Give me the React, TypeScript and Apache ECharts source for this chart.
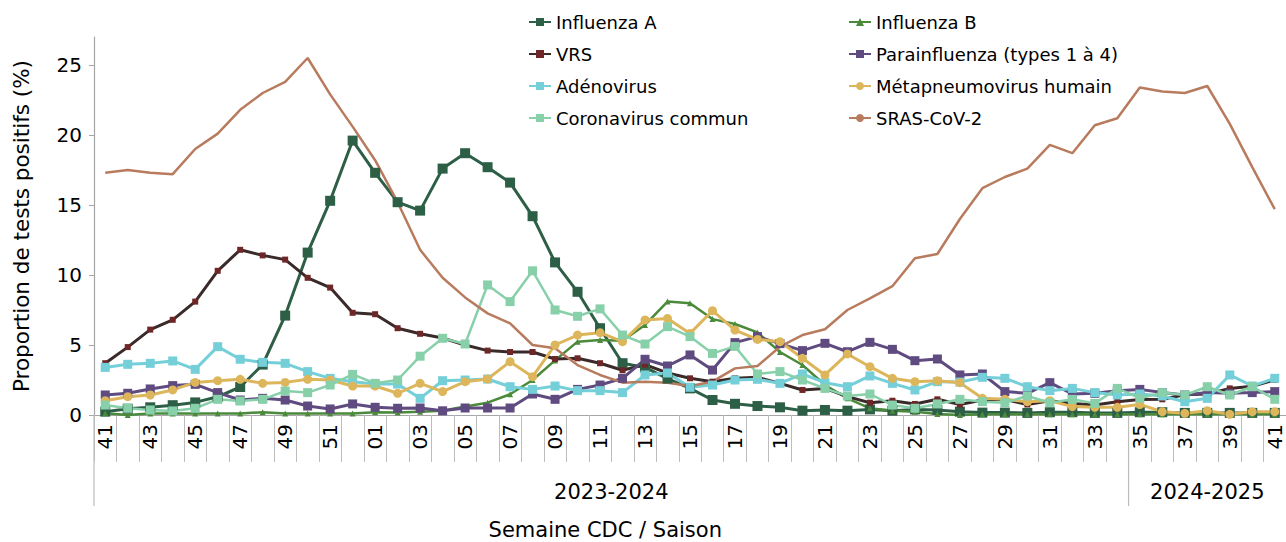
import React, { useEffect, useRef } from 'react';
import * as echarts from 'echarts';

const weeks = [
  '41', '42', '43', '44', '45', '46', '47', '48', '49', '50', '51', '52',
  '01', '02', '03', '04', '05', '06', '07', '08', '09', '10',
  '11', '12', '13', '14', '15', '16', '17', '18', '19', '20',
  '21', '22', '23', '24', '25', '26', '27', '28', '29', '30',
  '31', '32', '33', '34',
  '35', '36', '37', '38', '39', '40', '41',
];

const seasons = ['2023-2024', '2024-2025'];
const seasonLengths = [46, 7];

const influenzaA = [
  0.24, 0.45, 0.55, 0.7, 0.9, 1.3, 2.0, 3.6, 7.1, 11.6, 15.3, 19.6,
  17.3, 15.2, 14.6, 17.6, 18.7, 17.7, 16.6, 14.2, 10.9, 8.8,
  6.2, 3.7, 3.4, 2.6, 1.9, 1.07, 0.8, 0.64, 0.55, 0.31,
  0.36, 0.31, 0.4, 0.31, 0.4, 0.36, 0.24, 0.17, 0.17, 0.15,
  0.2, 0.2, 0.15, 0.15,
  0.2, 0.2, 0.15, 0.15, 0.15, 0.15, 0.15,
];
const influenzaB = [
  0.12, 0.0, 0.1, 0.1, 0.1, 0.1, 0.1, 0.2, 0.1, 0.1, 0.1, 0.1,
  0.2, 0.17, 0.24, 0.31, 0.6, 0.88, 1.48, 2.5, 3.9, 5.24,
  5.36, 5.31, 6.43, 8.1, 7.98, 6.85, 6.5, 5.9, 4.5, 3.57,
  2.14, 1.19, 0.48, 0.31, 0.24, 0.07, 0.0, 0.05, 0.05, 0.05,
  0.05, 0.05, 0.05, 0.05,
  0.05, 0.05, 0.05, 0.05, 0.05, 0.05, 0.05,
];
const vrs = [
  3.7, 4.85, 6.1, 6.8, 8.1, 10.3, 11.8, 11.4, 11.1, 9.8, 9.1, 7.3,
  7.2, 6.2, 5.8, 5.5, 5.0, 4.6, 4.5, 4.5, 4.0, 4.05,
  3.7, 3.2, 3.6, 3.0, 2.62, 2.38, 2.62, 2.69, 2.26, 1.79,
  1.9, 1.31, 0.88, 1.02, 0.79, 1.12, 0.75, 1.07, 1.12, 0.75,
  1.02, 0.83, 0.71, 0.95,
  1.1, 1.12, 1.45, 1.5, 1.9, 2.05, 2.5,
];
const parainfluenza = [
  1.43, 1.55, 1.86, 2.1, 2.19, 1.6, 1.07, 1.19, 1.07, 0.64, 0.43, 0.79,
  0.55, 0.48, 0.5, 0.3, 0.5, 0.5, 0.5, 1.5, 1.12, 1.83,
  2.14, 2.62, 3.98, 3.5, 4.29, 3.21, 5.17, 5.6, 5.1, 4.6,
  5.12, 4.52, 5.19, 4.69, 3.88, 4.0, 2.86, 2.93, 1.67, 1.55,
  2.31, 1.5, 1.55, 1.74,
  1.83, 1.6, 1.43, 1.6, 1.55, 1.6, 1.67,
];
const adenovirus = [
  3.4, 3.62, 3.69, 3.86, 3.26, 4.88, 3.98, 3.76, 3.69, 3.1, 2.62, 2.38,
  2.21, 2.21, 1.19, 2.45, 2.5, 2.57, 2.02, 1.83, 2.07, 1.74,
  1.74, 1.6, 2.86, 3.0, 1.98, 2.14, 2.5, 2.55, 2.26, 2.93,
  2.31, 2.02, 2.79, 2.26, 1.79, 2.38, 2.35, 2.69, 2.62, 2.02,
  1.74, 1.9, 1.6, 1.43,
  1.5, 1.36, 0.95, 1.19, 2.86, 2.07, 2.62,
];
const metapneumovirus = [
  1.02, 1.31, 1.43, 1.79, 2.33, 2.45, 2.55, 2.26, 2.33, 2.55, 2.5, 2.07,
  2.07, 1.55, 2.26, 1.67, 2.38, 2.57, 3.81, 2.74, 5.0, 5.71,
  5.88, 5.24, 6.79, 6.9, 5.83, 7.45, 6.07, 5.4, 5.24, 4.05,
  2.86, 4.36, 3.45, 2.62, 2.38, 2.45, 2.31, 1.19, 1.12, 0.95,
  1.02, 0.6, 0.55, 0.55,
  0.75, 0.24, 0.12, 0.31, 0.05, 0.24, 0.24,
];
const coronavirus = [
  0.71, 0.48, 0.36, 0.29, 0.48, 1.12, 1.0, 1.12, 1.71, 1.6, 2.14, 2.9,
  2.26, 2.5, 4.2, 5.48, 5.07, 9.29, 8.1, 10.3, 7.5, 7.05,
  7.58, 5.71, 5.07, 6.31, 5.6, 4.4, 4.9, 2.93, 3.1, 2.5,
  1.9, 1.36, 1.5, 0.71, 0.48, 0.79, 1.12, 0.95, 0.88, 1.36,
  0.88, 1.12, 0.83, 1.9,
  1.2, 1.6, 1.43, 2.02, 1.43, 2.02, 1.12,
];
const sarsCov2 = [
  17.3, 17.5, 17.3, 17.2, 19.0, 20.1, 21.8, 23.0, 23.8, 25.5, 22.9, 20.6,
  18.2, 15.2, 11.8, 9.8, 8.4, 7.26, 6.55, 5.0, 4.76, 3.57,
  2.86, 2.31, 2.38, 2.31, 2.07, 2.38, 3.33, 3.5, 4.88, 5.71,
  6.12, 7.5, 8.33, 9.2, 11.2, 11.5, 14.0, 16.2, 17.0, 17.6,
  19.3, 18.7, 20.7, 21.2,
  23.4, 23.1, 23.0, 23.5, 20.8, 17.7, 14.7,
];

const yTicks = [0, 5, 10, 15, 20, 25];
const FONT = 'DejaVu Sans';

export default function App() {
  const ref = useRef<HTMLDivElement>(null);

  useEffect(() => {
    if (!ref.current) return;
    const chart = echarts.init(ref.current, null, { renderer: 'svg' });

    const mk = (name: string, data: number[], color: string, symbol: string, size: number, width: number, markerColor?: string) => ({
      name,
      type: 'line',
      data,
      symbol,
      symbolSize: size,
      showSymbol: symbol !== 'none',
      lineStyle: { color, width },
      itemStyle: { color: markerColor || color, borderWidth: 0 },
      emphasis: { disabled: true },
    });

    const series = [
      mk('Influenza A', influenzaA, '#2D5E46', 'rect', 10, 3),
      mk('Influenza B', influenzaB, '#4A8A3A', 'triangle', 6, 2.5),
      mk('VRS', vrs, '#3A2A2A', 'rect', 6, 3, '#6E2626'),
      mk('Parainfluenza (types 1 à 4)', parainfluenza, '#5F4B7F', 'rect', 9, 3),
      mk('Adénovirus', adenovirus, '#74CFD9', 'rect', 9, 3),
      mk('Métapneumovirus humain', metapneumovirus, '#DDB65C', 'circle', 9, 3),
      mk('Coronavirus commun', coronavirus, '#87D0A9', 'rect', 9, 2.5),
      mk('SRAS-CoV-2', sarsCov2, '#B87B5E', 'none', 0, 2.5),
    ];

    const legendBase = {
      orient: 'vertical',
      top: 8,
      itemWidth: 22,
      itemHeight: 10,
      itemGap: 14,
      textStyle: { fontFamily: FONT, fontSize: 18, color: '#000' },
      selectedMode: false,
    };

    chart.setOption({
      animation: false,
      textStyle: { fontFamily: FONT },
      legend: [
        { ...legendBase, left: 523, data: ['Influenza A', 'VRS', 'Adénovirus', 'Coronavirus commun'] },
        { ...legendBase, left: 843, data: ['Influenza B', 'Parainfluenza (types 1 à 4)', 'Métapneumovirus humain', 'SRAS-CoV-2'] },
      ],
      grid: { left: 94, top: 37, width: 1200, height: 378, containLabel: false },
      xAxis: {
        type: 'category',
        data: weeks,
        boundaryGap: true,
        axisLine: { lineStyle: { color: '#A6A6A6', width: 1.2 } },
        axisTick: { show: true, interval: 0, length: 47, lineStyle: { color: '#BDBDBD', width: 1 } },
        axisLabel: { interval: 1, rotate: 90, margin: 9, fontSize: 20, color: '#000', fontFamily: FONT },
        splitLine: { show: false },
      },
      yAxis: {
        type: 'value',
        min: 0,
        max: 27,
        interval: 5,
        name: 'Proportion de tests positifs (%)',
        nameLocation: 'middle',
        nameGap: 62,
        nameTextStyle: { fontSize: 21.5, color: '#000', fontFamily: FONT },
        axisLine: { show: true, lineStyle: { color: '#A6A6A6', width: 1.2 } },
        axisTick: { show: true, length: 5, lineStyle: { color: '#A6A6A6' }, customValues: yTicks },
        axisLabel: {
          fontSize: 20,
          color: '#000',
          margin: 12,
          fontFamily: FONT,
          customValues: yTicks,
          formatter: (v: number) => (yTicks.includes(v) ? String(v) : ''),
        },
        splitLine: { show: false },
      },
      series,
    });

    // season annotations below the axis, positioned through the axis scale
    const p0 = chart.convertToPixel({ xAxisIndex: 0 }, 0) as number;
    const p1 = chart.convertToPixel({ xAxisIndex: 0 }, 1) as number;
    const bw = p1 - p0;
    const yAxisPx = chart.convertToPixel({ yAxisIndex: 0 }, 0) as number;
    const bounds: number[] = [p0 - bw / 2];
    let acc = 0;
    seasonLengths.forEach((len) => {
      acc += len;
      bounds.push(p0 - bw / 2 + acc * bw);
    });
    const graphics: any[] = [];
    seasons.forEach((s, i) => {
      graphics.push({
        type: 'line',
        shape: { x1: bounds[i], y1: yAxisPx, x2: bounds[i], y2: yAxisPx + 91 },
        style: { stroke: '#BDBDBD', lineWidth: 1.2 },
        silent: true,
      });
      graphics.push({
        type: 'text',
        x: (bounds[i] + bounds[i + 1]) / 2,
        y: yAxisPx + 77,
        style: { text: s, fontSize: 21, fontFamily: FONT, fill: '#000', textAlign: 'center', textVerticalAlign: 'middle' },
        silent: true,
      });
    });
    graphics.push({
      type: 'text',
      x: (bounds[0] + bounds[1]) / 2 - 6,
      y: yAxisPx + 115,
      style: { text: 'Semaine CDC / Saison', fontSize: 21, fontFamily: FONT, fill: '#000', textAlign: 'center', textVerticalAlign: 'middle' },
      silent: true,
    });
    chart.setOption({ graphic: graphics });

    return () => chart.dispose();
  }, []);

  return (
    <div
      ref={ref}
      style={{ position: 'fixed', left: 0, top: 0, width: 1286, height: 542, background: '#fff' }}
    />
  );
}
